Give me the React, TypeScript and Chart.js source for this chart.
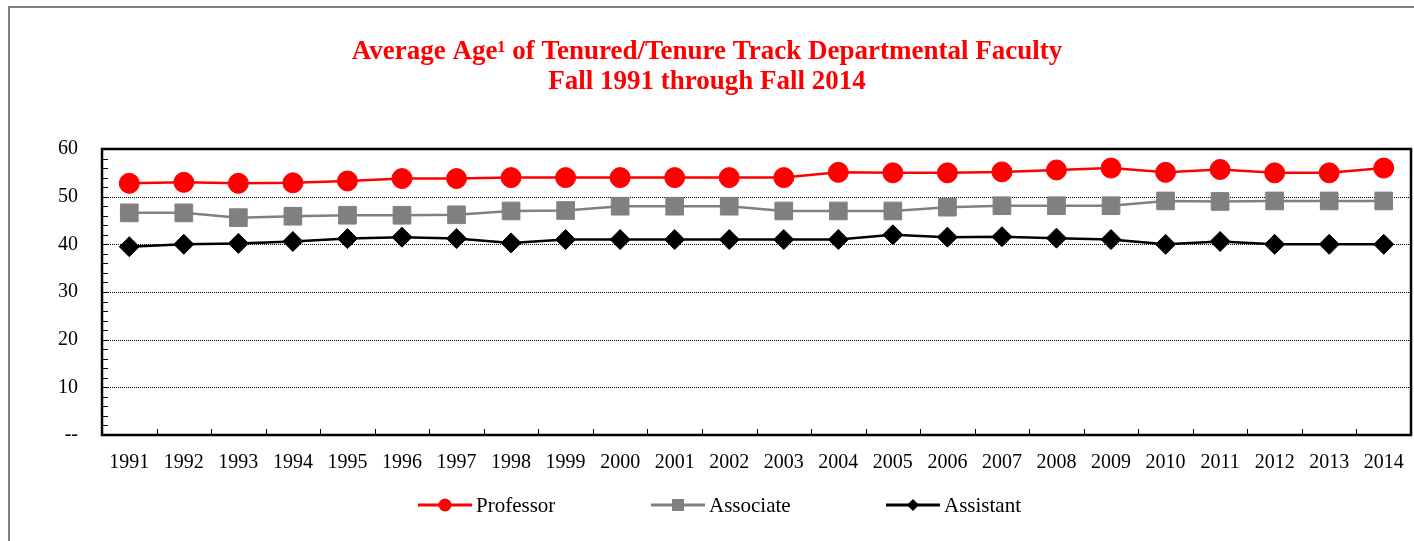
import { useEffect, useRef } from "react";
import { Chart, registerables } from "chart.js";

Chart.register(...registerables);

const years = [
  "1991", "1992", "1993", "1994", "1995", "1996", "1997", "1998", "1999", "2000", "2001", "2002",
  "2003", "2004", "2005", "2006", "2007", "2008", "2009", "2010", "2011", "2012", "2013", "2014",
];
const professor = [52.8, 53.0, 52.8, 52.9, 53.3, 53.8, 53.8, 54.0, 54.0, 54.0, 54.0, 54.0, 54.0, 55.1, 55.0, 55.0, 55.2, 55.6, 56.0, 55.1, 55.7, 55.0, 55.0, 56.0];
const associate = [46.6, 46.6, 45.6, 45.9, 46.1, 46.1, 46.2, 47.0, 47.1, 48.0, 48.0, 48.0, 47.0, 47.0, 47.0, 47.8, 48.1, 48.1, 48.1, 49.1, 49.0, 49.1, 49.1, 49.1];
const assistant = [39.5, 40.0, 40.2, 40.6, 41.2, 41.5, 41.2, 40.3, 41.0, 41.0, 41.0, 41.0, 41.0, 41.0, 42.0, 41.5, 41.6, 41.3, 41.0, 40.0, 40.6, 40.0, 40.0, 40.0];
const seriesNames = ["Professor", "Associate", "Assistant"];
const yMin = 0;
const yMax = 60;
const yStep = 10;
const yMinorStep = 2;
const titleLines = ["Average Age\u00b9 of Tenured/Tenure Track Departmental Faculty", "Fall 1991 through Fall 2014"];

const FONT = '"Liberation Serif", "Times New Roman", serif';

const decorPlugin = {
  id: "decor",
  beforeDraw(chart: any) {
    const ctx = chart.ctx;
    ctx.save();
    ctx.fillStyle = "#ffffff";
    ctx.fillRect(0, 0, chart.width, chart.height);
    // outer border
    ctx.strokeStyle = "#7f7f7f";
    ctx.lineWidth = 2;
    ctx.beginPath();
    ctx.moveTo(9, chart.height + 2);
    ctx.lineTo(9, 7);
    ctx.lineTo(chart.width + 2, 7);
    ctx.stroke();
    // title
    ctx.fillStyle = "#ff0000";
    ctx.font = "bold 27px " + FONT;
    ctx.textAlign = "center";
    ctx.textBaseline = "alphabetic";
    ctx.fillText(titleLines[0], chart.width / 2, 59);
    ctx.fillText(titleLines[1], chart.width / 2, 89);
    ctx.restore();
  },
  beforeDatasetsDraw(chart: any) {
    const ctx = chart.ctx;
    const { left, right, top, bottom } = chart.chartArea;
    const y = chart.scales.y;
    const x = chart.scales.x;
    ctx.save();
    // dotted gridlines
    ctx.strokeStyle = "#000000";
    ctx.lineWidth = 1;
    ctx.setLineDash([1, 1]);
    for (let v = yMin + yStep; v < yMax; v += yStep) {
      const py = Math.round(y.getPixelForValue(v)) + 0.5;
      ctx.beginPath();
      ctx.moveTo(left, py);
      ctx.lineTo(right, py);
      ctx.stroke();
    }
    ctx.setLineDash([]);
    // minor y ticks (inside)
    ctx.lineWidth = 1;
    for (let v = yMin + yMinorStep; v < yMax; v += yMinorStep) {
      const py = Math.round(y.getPixelForValue(v)) + 0.5;
      ctx.beginPath();
      ctx.moveTo(left, py);
      ctx.lineTo(left + 6, py);
      ctx.stroke();
    }
    // x ticks between categories (inside)
    for (let i = 1; i < years.length; i++) {
      const px = Math.round((x.getPixelForValue(i - 1) + x.getPixelForValue(i)) / 2) + 0.5;
      ctx.beginPath();
      ctx.moveTo(px, bottom);
      ctx.lineTo(px, bottom - 6);
      ctx.stroke();
    }
    // frame
    ctx.lineWidth = 2.5;
    ctx.strokeRect(left, top, right - left, bottom - top);
    ctx.restore();
  },
  afterDraw(chart: any) {
    const ctx = chart.ctx;
    const items = [
      { x0: 418, text: 476 },
      { x0: 651, text: 709 },
      { x0: 886, text: 944 },
    ];
    const ly = 505;
    ctx.save();
    chart.data.datasets.forEach((ds: any, i: number) => {
      const it = items[i];
      const color = ds.borderColor;
      ctx.strokeStyle = color;
      ctx.fillStyle = ds.pointBackgroundColor;
      ctx.lineWidth = 3;
      ctx.beginPath();
      ctx.moveTo(it.x0, ly);
      ctx.lineTo(it.x0 + 54, ly);
      ctx.stroke();
      const cx = it.x0 + 27;
      ctx.beginPath();
      if (ds.pointStyle === "circle") {
        ctx.arc(cx, ly, 6.5, 0, Math.PI * 2);
      } else if (ds.pointStyle === "rect") {
        ctx.rect(cx - 6, ly - 6, 12, 12);
      } else {
        ctx.moveTo(cx - 6, ly);
        ctx.lineTo(cx, ly - 6);
        ctx.lineTo(cx + 6, ly);
        ctx.lineTo(cx, ly + 6);
        ctx.closePath();
      }
      ctx.fill();
      ctx.fillStyle = "#000000";
      ctx.font = "21px " + FONT;
      ctx.textAlign = "left";
      ctx.textBaseline = "middle";
      ctx.fillText(seriesNames[i], it.text, ly + 1);
    });
    ctx.restore();
  },
};

export default function App() {
  const ref = useRef<HTMLCanvasElement | null>(null);
  useEffect(() => {
    if (!ref.current) return;
    const chart = new Chart(ref.current, {
      type: "line",
      data: {
        labels: years,
        datasets: [
          {
            label: seriesNames[0],
            data: professor,
            borderColor: "#ff0000",
            backgroundColor: "#ff0000",
            pointBackgroundColor: "#ff0000",
            pointBorderColor: "#ff0000",
            pointStyle: "circle",
            pointRadius: 10,
            pointBorderWidth: 1,
            borderWidth: 2.5,
            tension: 0,
          },
          {
            label: seriesNames[1],
            data: associate,
            borderColor: "#808080",
            backgroundColor: "#808080",
            pointBackgroundColor: "#808080",
            pointBorderColor: "#808080",
            pointStyle: "rect",
            pointRadius: 12.5,
            pointBorderWidth: 1,
            borderWidth: 2.5,
            tension: 0,
          },
          {
            label: seriesNames[2],
            data: assistant,
            borderColor: "#000000",
            backgroundColor: "#000000",
            pointBackgroundColor: "#000000",
            pointBorderColor: "#000000",
            pointStyle: "rectRot",
            pointRadius: 10,
            pointBorderWidth: 1,
            borderWidth: 2.5,
            tension: 0,
          },
        ],
      },
      options: {
        animation: false,
        responsive: false,
        devicePixelRatio: 1,
        layout: { autoPadding: false, padding: { left: 0, right: 3, top: 149, bottom: 0 } },
        plugins: {
          legend: { display: false },
          title: { display: false },
          tooltip: { enabled: false },
        },
        scales: {
          x: {
            type: "category",
            offset: true,
            grid: { display: false, drawTicks: false },
            border: { display: false },
            ticks: {
              color: "#000000",
              font: { family: FONT, size: 20 },
              maxRotation: 0,
              autoSkip: false,
              padding: 16,
            },
            afterFit: (s: any) => {
              s.height = 106;
              s.paddingLeft = 0;
              s.paddingRight = 0;
            },
          },
          y: {
            min: yMin,
            max: yMax,
            grid: { display: false, drawTicks: false },
            border: { display: false },
            ticks: {
              stepSize: yStep,
              color: "#000000",
              font: { family: FONT, size: 20 },
              padding: 24,
              callback: (v: any) => (Number(v) === 0 ? "--" : String(v)),
            },
            afterFit: (s: any) => {
              s.width = 102;
              s.paddingTop = 0;
              s.paddingBottom = 0;
            },
          },
        },
      },
      plugins: [decorPlugin],
    });
    return () => chart.destroy();
  }, []);
  return (
    <div style={{ position: "fixed", left: 0, top: 0, width: 1414, height: 541, overflow: "hidden" }}>
      <canvas ref={ref} width={1414} height={541} style={{ display: "block", width: 1414, height: 541 }} />
    </div>
  );
}
